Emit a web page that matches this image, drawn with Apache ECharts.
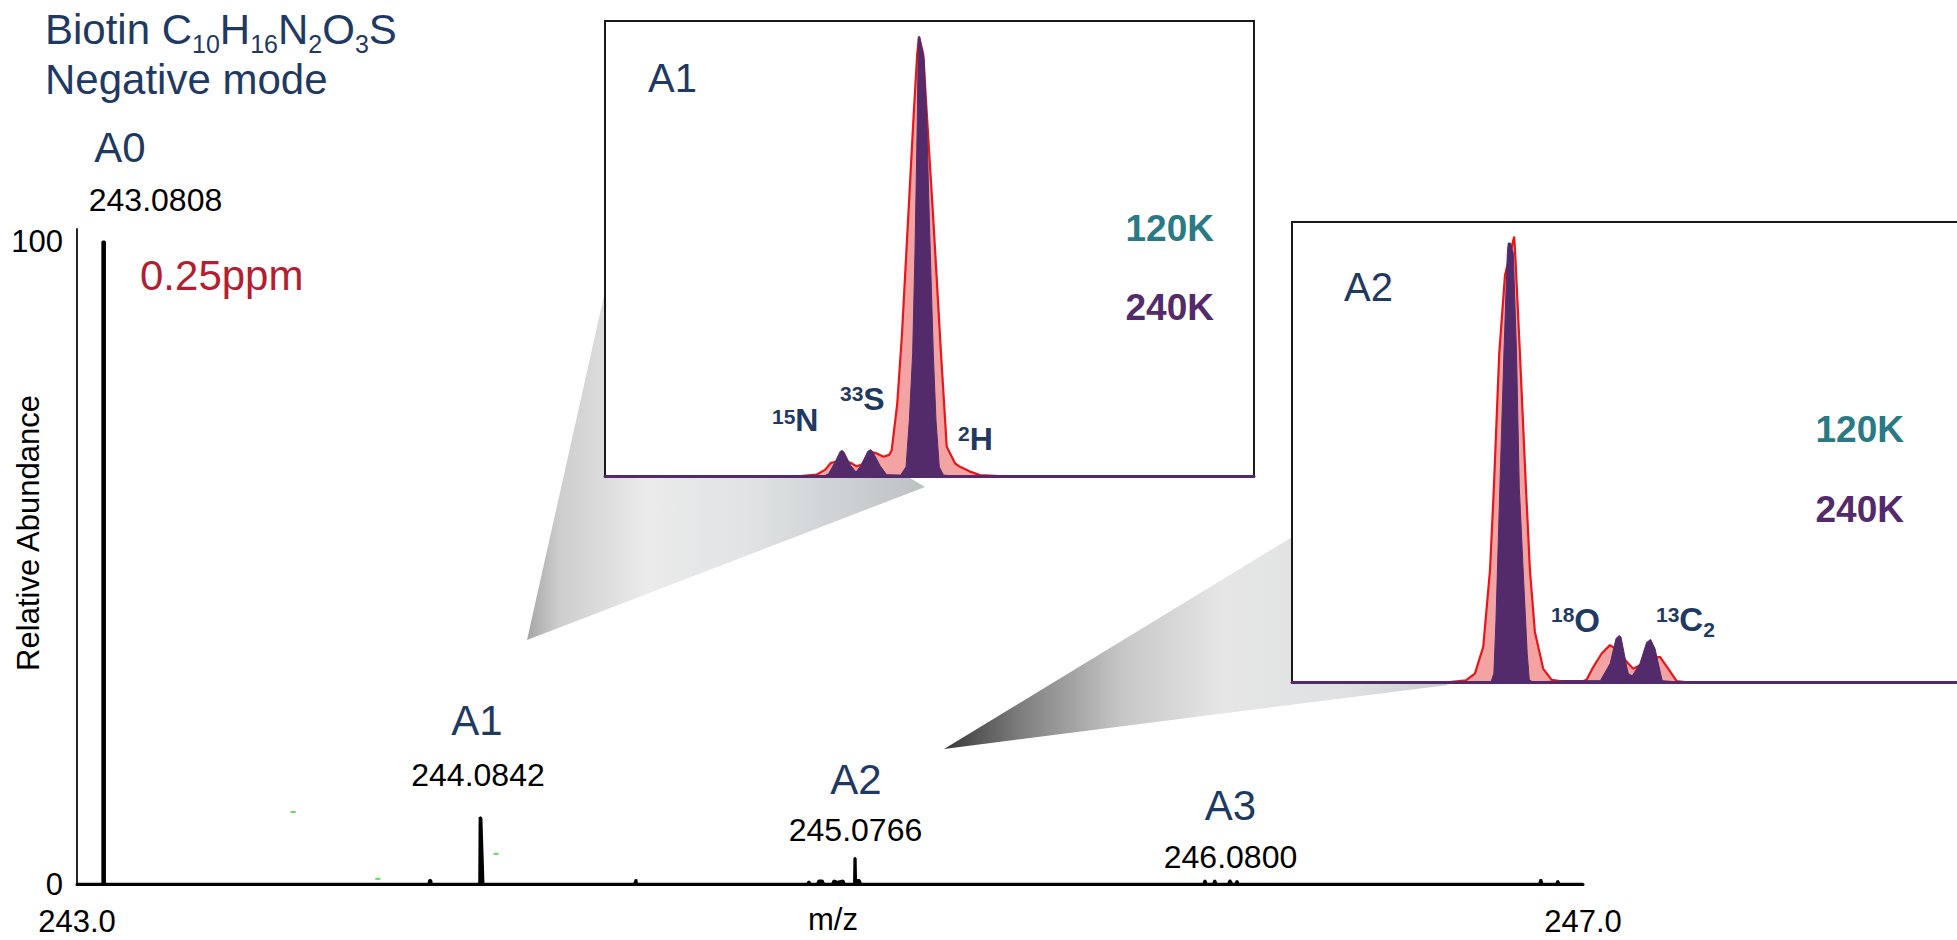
<!DOCTYPE html>
<html><head><meta charset="utf-8">
<script src="https://cdn.jsdelivr.net/npm/echarts@6.0.0/dist/echarts.min.js"></script>
<style>html,body{margin:0;padding:0;background:#fff;}#c{width:1957px;height:940px;}</style>
</head><body><div id="c"></div>
<script>
// ---------------- DATA ----------------
// Main spectrum: m/z and relative abundance (%)
const mainMz  = [243.010, 243.0780, 243.0780, 243.0836, 243.0836, 243.944, 243.946, 243.950, 243.952,
                 244.0790, 244.0800, 244.0835, 244.0890, 244.490, 244.495, 244.497,
                 244.950, 244.954, 244.958, 244.976, 244.980, 244.990, 244.994, 245.016, 245.020, 245.030, 245.045, 245.049,
                 245.0745, 245.0755, 245.0775, 245.0785, 245.0880, 245.0920,
                 246.002, 246.006, 246.010, 246.028, 246.032, 246.036, 246.068, 246.072, 246.078, 246.087, 246.091, 246.095,
                 246.894, 246.898, 246.902, 246.939, 246.943, 246.947, 247.010];
const mainInt = [0, 0, 100, 100, 0, 0, 0.6, 0.6, 0,
                 0, 10.4, 10.2, 0, 0, 0.7, 0,
                 0, 0.4, 0, 0, 0.5, 0.5, 0, 0, 0.5, 0.3, 0.5, 0,
                 0, 4.0, 4.0, 0.6, 0.6, 0,
                 0, 0.6, 0, 0, 0.6, 0, 0, 0.6, 0, 0, 0.5, 0,
                 0, 0.7, 0, 0, 0.5, 0, 0];
const greenMz  = [243.584, 243.809, 244.123];
const greenInt = [11.2, 0.8, 4.7];
const xTickValues = [243.01, 247.01];
const xTickLabels = ['243.0', '247.0'];
const yTickValues = [0, 100];

// Inset A1 (profiles, relative to main A1 peak = 100)
const a1Mz120  = [244.0585, 244.0745, 244.0758, 244.0765, 244.0770, 244.0779, 244.0786, 244.0791, 244.0795, 244.0802,
                  244.0807, 244.0813, 244.08175, 244.08196, 244.08242, 244.0828, 244.0833, 244.08374, 244.08405, 244.0842,
                  244.08455, 244.08485, 244.08538, 244.0860, 244.08647, 244.08674, 244.08715, 244.08756, 244.08838, 244.0892,
                  244.0908, 244.1116];
const a1Int120 = [0, 0, 0.3, 1.4, 3.0, 3.5, 3.0, 2.2, 2.6, 5.5,
                  5.2, 4.4, 4.8, 5.8, 16.5, 32, 58, 81, 96, 100,
                  96, 82, 58, 28, 6.7, 5.2, 2.9, 2.1, 1.0, 0.2,
                  0, 0];
const a1Mz240  = [244.0585, 244.0764, 244.0768, 244.0773, 244.07775, 244.0779, 244.07805, 244.0786, 244.07905, 244.0795,
                  244.0800, 244.08024, 244.0804, 244.0810, 244.08155, 244.0827, 244.08314, 244.08341, 244.08368, 244.08387,
                  244.08406, 244.08415, 244.08425, 244.08461, 244.08483, 244.08505, 244.08537, 244.08559, 244.08586, 244.0862,
                  244.0872, 244.1116];
const a1Int240 = [0, 0, 0.5, 3.0, 5.6, 5.8, 5.5, 2.4, 0.9, 2.6,
                  5.6, 6.0, 5.6, 2.4, 0.3, 0.2, 2.1, 12.7, 27.9, 50.7,
                  81, 100, 100, 95, 81, 58, 27.9, 12.7, 2.1, 0.2,
                  0, 0];

// Inset A2
const a2Mz120  = [245.0599, 245.0720, 245.0733, 245.07396, 245.0746, 245.07512, 245.07542, 245.07583, 245.07627, 245.07698,
                  245.0771, 245.07742, 245.07788, 245.07819, 245.07857, 245.07921, 245.07986, 245.08049, 245.08229, 245.08254,
                  245.08305, 245.0837, 245.08434, 245.0848, 245.08574, 245.08613, 245.08664, 245.0872, 245.08818, 245.08882,
                  245.08946, 245.0901, 245.1116];
const a2Int120 = [0, 0, 0.4, 1.9, 8.0, 25.4, 44.4, 74.8, 92.6, 101.5,
                  95, 74.8, 44.4, 25.4, 11.4, 3.0, 0.5, 0.2, 0.2, 0.5,
                  3.4, 6.5, 8.4, 7.5, 4.2, 3.0, 3.8, 5.5, 5.7, 3.0,
                  0.2, 0, 0];
const a2Mz240  = [245.0599, 245.0752, 245.07542, 245.07558, 245.07588, 245.07619, 245.07645, 245.07652, 245.0767, 245.07691,
                  245.07716, 245.07737, 245.07773, 245.07798, 245.07814, 245.0784, 245.0811, 245.0826, 245.0836, 245.08435,
                  245.0848, 245.08505, 245.08518, 245.08543, 245.0856, 245.08575, 245.08605, 245.08664, 245.08715, 245.08746,
                  245.0878, 245.08805, 245.08835, 245.0896, 245.1116];
const a2Int240 = [0, 0, 2, 14.1, 44.4, 74.8, 97.6, 100, 100, 97.6,
                  74.8, 44.4, 21.6, 6.5, 0.5, 0, 0.3, 0.3, 0.3, 4.2,
                  9.9, 10.6, 10.3, 6.5, 3.8, 1.9, 1.4, 4.2, 9.0, 9.7,
                  7.6, 4.2, 0.3, 0, 0];

// ---------------- STYLE / LAYOUT ----------------
const FONT = '"Liberation Sans", Arial, Helvetica, sans-serif';
const NAVY = '#1f3a62', TEAL = '#2a7a86', PURPLE = '#532b6a', PINK = '#f4a3a3', RED = '#e8161b';
const zip = (a, b) => a.map((v, i) => [v, b[i]]);

const ctx = document.createElement('canvas').getContext('2d');
function measure(t, size, bold) {
  ctx.font = (bold ? 'bold ' : '') + size + 'px "Liberation Sans"';
  return ctx.measureText(t).width;
}
function txt(t, x, y, size, color, o) {
  o = o || {};
  return { type: 'text', x: x, y: y, rotation: o.rot || 0, z: 20, silent: true,
    style: { text: t, fontSize: size, fontFamily: FONT, fontWeight: o.bold ? 'bold' : 'normal',
             fill: color, align: o.align || 'center', verticalAlign: 'middle' } };
}
function run(x, y, parts, color, bold) {
  const out = []; let cx = x;
  parts.forEach(p => {
    out.push(txt(p[0], cx, y + p[2], p[1], color, { bold: bold, align: 'left' }));
    cx += measure(p[0], p[1], bold);
  });
  return out;
}

const texts = [].concat(
  run(45, 29.5, [['Biotin C', 42, 0], ['10', 25, 14], ['H', 42, 0], ['16', 25, 14], ['N', 42, 0], ['2', 25, 14], ['O', 42, 0], ['3', 25, 14], ['S', 42, 0]], NAVY, false),
  [txt('Negative mode', 45, 79, 42, NAVY, { align: 'left' }),
   txt('A0', 120, 147, 42, NAVY), txt('243.0808', 155.5, 200, 32, '#000'),
   txt('0.25ppm', 140, 275, 42, '#b2202f', { align: 'left' }),
   txt('A1', 477, 720, 42, NAVY), txt('244.0842', 478, 775, 32, '#000'),
   txt('A2', 856, 779, 42, NAVY), txt('245.0766', 855.5, 829.5, 32, '#000'),
   txt('A3', 1230.5, 805.5, 42, NAVY), txt('246.0800', 1230.5, 856.5, 32, '#000'),
   txt('m/z', 833, 919, 31, '#000'),
   txt('Relative Abundance', 28, 533, 31, '#000', { rot: Math.PI / 2 }),
   // inset A1
   txt('A1', 648, 77.5, 40, NAVY, { align: 'left' }),
   txt('120K', 1214, 228, 37, TEAL, { align: 'right', bold: true }),
   txt('240K', 1214, 307.5, 37, PURPLE, { align: 'right', bold: true }),
   // inset A2
   txt('A2', 1344, 287, 40, NAVY, { align: 'left' }),
   txt('120K', 1904, 429.5, 37, TEAL, { align: 'right', bold: true }),
   txt('240K', 1904, 509.5, 37, PURPLE, { align: 'right', bold: true })],
  run(772, 420, [['15', 21, -4], ['N', 32, 0]], NAVY, true),
  run(840, 398.5, [['33', 21, -5], ['S', 32, 0]], NAVY, true),
  run(958, 438.5, [['2', 21, -5], ['H', 32, 0]], NAVY, true),
  run(1551, 620, [['18', 21, -6], ['O', 33, 0]], NAVY, true),
  run(1656, 619, [['13', 21, -5], ['C', 33, 0], ['2', 21, 10]], NAVY, true)
);

const cone1 = new echarts.graphic.LinearGradient(527, 0, 925, 0, [
  { offset: 0, color: '#a6a6a6' }, { offset: 0.08, color: '#cdcdcd' }, { offset: 0.3, color: '#ebebeb' },
  { offset: 0.55, color: '#e1e3e4' }, { offset: 0.8, color: '#cdd1d3' }, { offset: 1, color: '#bcc1c4' }], true);
const cone2 = new echarts.graphic.LinearGradient(944, 0, 1448, 0, [
  { offset: 0, color: '#383838' }, { offset: 0.15, color: '#7d7d7d' }, { offset: 0.35, color: '#c6c6c6' },
  { offset: 0.55, color: '#e6e6e6' }, { offset: 0.8, color: '#dfe1e2' }, { offset: 1, color: '#c9cdd0' }], true);

const chart = echarts.init(document.getElementById('c'), null, { renderer: 'svg', width: 1957, height: 940 });
chart.setOption({
  animation: false,
  backgroundColor: '#fff',
  textStyle: { fontFamily: FONT },
  grid: [
    { left: 77, top: 229, width: 1506, height: 655, containLabel: false, outerBoundsMode: 'none' },
    { left: 605, top: 21, width: 649, height: 455, show: true, backgroundColor: '#fff', borderColor: '#1a1a1a', borderWidth: 2, z: 3, containLabel: false, outerBoundsMode: 'none' },
    { left: 1292, top: 222, width: 680, height: 460, show: true, backgroundColor: '#fff', borderColor: '#1a1a1a', borderWidth: 2, z: 3, containLabel: false, outerBoundsMode: 'none' }
  ],
  xAxis: [
    { type: 'value', gridIndex: 0, min: xTickValues[0], max: xTickValues[1],
      axisLine: { show: true, onZero: false, lineStyle: { color: '#000', width: 3 } },
      axisTick: { show: false }, splitLine: { show: false },
      axisLabel: { customValues: xTickValues, fontSize: 31, color: '#000', margin: 22, fontFamily: FONT,
                   formatter: v => xTickLabels[xTickValues.indexOf(v)] !== undefined ? xTickLabels[xTickValues.indexOf(v)] : v.toFixed(1) } },
    { type: 'value', gridIndex: 1, min: 244.05849, max: 244.11163, z: 8,
      axisLine: { show: true, onZero: false, lineStyle: { color: PURPLE, width: 3 } },
      axisTick: { show: false }, axisLabel: { show: false }, splitLine: { show: false } },
    { type: 'value', gridIndex: 2, min: 245.05991, max: 245.11215, z: 8,
      axisLine: { show: true, onZero: false, lineStyle: { color: PURPLE, width: 3 } },
      axisTick: { show: false }, axisLabel: { show: false }, splitLine: { show: false } }
  ],
  yAxis: [
    { type: 'value', gridIndex: 0, min: 0, max: 102,
      axisLine: { show: true, onZero: false, lineStyle: { color: '#262626', width: 2 } },
      axisTick: { show: false }, splitLine: { show: false },
      axisLabel: { customValues: yTickValues, fontSize: 31, color: '#000', margin: 14, fontFamily: FONT } },
    { type: 'value', gridIndex: 1, min: 0, max: 103.6, show: false },
    { type: 'value', gridIndex: 2, min: 0, max: 104.8, show: false }
  ],
  graphic: [
    { type: 'polygon', z: 1, silent: true, shape: { points: [[527, 640], [604.6, 293], [925, 487]] }, style: { fill: cone1 } },
    { type: 'polygon', z: 1, silent: true, shape: { points: [[944, 749], [1292, 537], [1448, 685]] }, style: { fill: cone2 } }
  ].concat(texts),
  series: [
    { type: 'line', xAxisIndex: 0, yAxisIndex: 0, data: zip(mainMz, mainInt), symbol: 'none', silent: true,
      lineStyle: { color: '#000', width: 2.5 }, areaStyle: { color: '#000', opacity: 1 }, z: 2 },
    { type: 'scatter', xAxisIndex: 0, yAxisIndex: 0, data: zip(greenMz, greenInt), symbol: 'rect', symbolSize: [5, 2],
      itemStyle: { color: '#35d035' }, silent: true, z: 2 },
    { type: 'line', xAxisIndex: 1, yAxisIndex: 1, data: zip(a1Mz120, a1Int120), symbol: 'none', silent: true,
      lineStyle: { color: RED, width: 2.2 }, areaStyle: { color: PINK, opacity: 1 }, z: 5 },
    { type: 'line', xAxisIndex: 1, yAxisIndex: 1, data: zip(a1Mz240, a1Int240), symbol: 'none', silent: true,
      lineStyle: { color: PURPLE, width: 1 }, areaStyle: { color: PURPLE, opacity: 1 }, z: 6 },
    { type: 'line', xAxisIndex: 2, yAxisIndex: 2, data: zip(a2Mz120, a2Int120), symbol: 'none', silent: true,
      lineStyle: { color: RED, width: 2.2 }, areaStyle: { color: PINK, opacity: 1 }, z: 5 },
    { type: 'line', xAxisIndex: 2, yAxisIndex: 2, data: zip(a2Mz240, a2Int240), symbol: 'none', silent: true,
      lineStyle: { color: PURPLE, width: 1 }, areaStyle: { color: PURPLE, opacity: 1 }, z: 6 }
  ]
});
</script></body></html>
